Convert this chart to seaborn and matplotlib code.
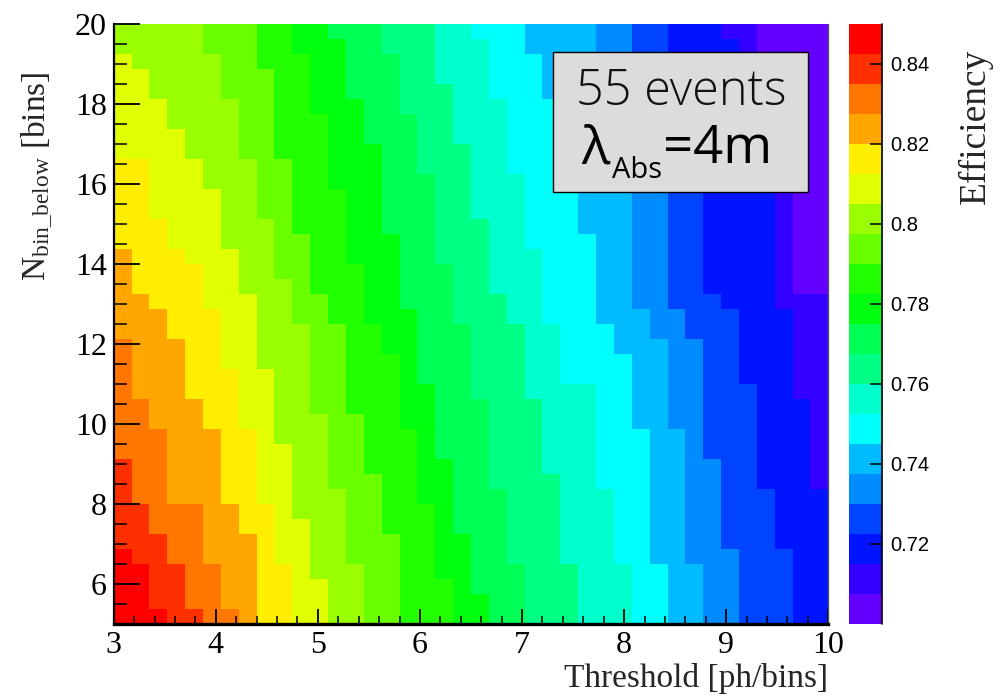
import colorsys
import numpy as np
import pandas as pd
import matplotlib
matplotlib.use("Agg")
import matplotlib.pyplot as plt
import seaborn as sns
from matplotlib.colors import ListedColormap
from matplotlib.patches import Rectangle

# ---------------- data ----------------
threshold_range = (3.0, 10.0)      # x axis: Threshold [ph/bins]
n_threshold_bins = 40
nbin_range = (5.0, 20.0)           # y axis: N_bin_below [bins]
n_nbin_bins = 40
eff_min, eff_max, n_levels = 0.70, 0.85, 20   # colour (contour) levels of the z axis
cbar_ticks = [0.72, 0.74, 0.76, 0.78, 0.80, 0.82, 0.84]
cbar_ticklabels = ["0.72", "0.74", "0.76", "0.78", "0.8", "0.82", "0.84"]
x_ticks = [3, 4, 5, 6, 7, 8, 9, 10]
y_ticks = [6, 8, 10, 12, 14, 16, 18, 20]

# For each efficiency level L (0 = lowest band ... 19 = highest band) the column
# (threshold bin) where the band of level >= L ends, listed as (first row, column)
# steps going up the N_bin_below rows (row 0 = bottom).
band_steps = {
    19: [(0, 3), (1, 2), (4, 1), (5, 0)],
    18: [(0, 5), (1, 4), (4, 3), (6, 2), (8, 1), (11, 0)],
    17: [(0, 7), (1, 6), (4, 5), (8, 3), (13, 2), (15, 1), (19, 0)],
    16: [(0, 8), (6, 7), (8, 6), (13, 5), (15, 4), (19, 3), (21, 2), (22, 1), (25, 0)],
    15: [(0, 10), (4, 9), (8, 8), (13, 7), (17, 6), (21, 5), (24, 4), (25, 3), (27, 2), (31, 0)],
    14: [(0, 12), (3, 11), (7, 10), (12, 9), (17, 8), (22, 7), (25, 6), (29, 5), (31, 4),
         (33, 3), (35, 2), (37, 1), (38, 0)],
    13: [(0, 14), (4, 13), (9, 12), (14, 11), (20, 10), (23, 9), (27, 8), (31, 7), (35, 6), (38, 5)],
    12: [(0, 16), (6, 15), (10, 14), (14, 13), (20, 12), (22, 11), (26, 10), (31, 9), (37, 8)],
    11: [(0, 19), (3, 18), (8, 17), (13, 16), (18, 15), (20, 14), (24, 13), (29, 12), (34, 11), (38, 10)],
    10: [(0, 21), (2, 20), (6, 19), (11, 18), (16, 17), (21, 16), (26, 15), (32, 14), (35, 13), (39, 12)],
    9: [(0, 23), (4, 22), (9, 21), (15, 20), (20, 19), (24, 18), (30, 17), (34, 16), (38, 15)],
    8: [(0, 26), (4, 25), (10, 24), (15, 23), (20, 22), (22, 21), (27, 20), (32, 19), (36, 18)],
    7: [(0, 29), (4, 28), (9, 27), (16, 25), (20, 24), (25, 23), (30, 22), (35, 21), (39, 20)],
    6: [(0, 31), (4, 30), (13, 29), (18, 28), (20, 27), (26, 26), (29, 25), (35, 24), (38, 23)],
    5: [(0, 33), (4, 32), (13, 31), (19, 30), (21, 29), (29, 28), (37, 27)],
    4: [(0, 35), (5, 34), (11, 33), (19, 32), (21, 31), (29, 30), (36, 29)],
    3: [(0, 38), (5, 37), (9, 36), (16, 35), (21, 34), (22, 33), (29, 32), (36, 31)],
    2: [(0, 40), (9, 39), (15, 38), (21, 37), (29, 36), (36, 35), (39, 34)],
    1: [(0, 40), (22, 38), (30, 37), (36, 36)],
}

# ---------------- build the histogram table ----------------
level = np.zeros((n_nbin_bins, n_threshold_bins), dtype=int)
for L, steps in band_steps.items():
    edge = np.zeros(n_nbin_bins, dtype=int)
    for r0, c in steps:
        edge[r0:] = c
    for r in range(n_nbin_bins):
        level[r, :edge[r]] += 1
dz = (eff_max - eff_min) / n_levels
eff = eff_min + (level + 0.5) * dz

xw = (threshold_range[1] - threshold_range[0]) / n_threshold_bins
yw = (nbin_range[1] - nbin_range[0]) / n_nbin_bins
x_centers = threshold_range[0] + xw * (np.arange(n_threshold_bins) + 0.5)
y_centers = nbin_range[0] + yw * (np.arange(n_nbin_bins) + 0.5)
df = pd.DataFrame(eff[::-1], index=np.round(y_centers[::-1], 4), columns=np.round(x_centers, 4))

# ROOT "pretty palette" (HLS hue scan violet -> red), 20 contour colours
pal = []
for k in range(n_levels):
    i = int((k + 0.99) * 50 / n_levels)
    if i >= 49:
        pal.append((1.0, 0.0, 0.0))
    else:
        hue = 280 - (i + 1) * 5.6
        pal.append(colorsys.hls_to_rgb(hue / 360.0, 0.5, 1.0))
cmap = ListedColormap(pal)

# ---------------- figure ----------------
sns.set_theme(style="white")
plt.rcParams["font.family"] = ["Liberation Serif", "DejaVu Serif"]
plt.rcParams["mathtext.fontset"] = "custom"
plt.rcParams["mathtext.rm"] = "Liberation Serif"
plt.rcParams["mathtext.it"] = "Liberation Serif:italic"
plt.rcParams["axes.axisbelow"] = False

W, H = 1001, 696
fig = plt.figure(figsize=(W / 100, H / 100), dpi=100)
fig.patch.set_facecolor("white")

def fx(px):
    return px / W

def fy(py):
    return 1 - py / H

L_, R_, T_, B_ = 113.7, 828.3, 23.7, 623.7
ax = fig.add_axes([fx(L_), fy(B_), (R_ - L_) / W, (B_ - T_) / H])
cax = fig.add_axes([fx(849), fy(B_), 33 / W, (B_ - T_) / H])

sns.heatmap(df, ax=ax, cbar_ax=cax, cmap=cmap, vmin=eff_min, vmax=eff_max,
            xticklabels=False, yticklabels=False, cbar_kws={"ticks": cbar_ticks})
ax.set_axisbelow(False)
cax.set_axisbelow(False)

# axis ticks (ROOT style, inside)
def xpos(v):
    return (v - threshold_range[0]) / xw

def ypos(v):
    return (nbin_range[1] - v) / yw

ax.set_xticks([xpos(v) for v in x_ticks])
ax.set_xticklabels([str(v) for v in x_ticks])
ax.set_xticks([xpos(v) for v in np.arange(3.0, 10.01, 0.2)], minor=True)
ax.set_yticks([ypos(v) for v in y_ticks])
ax.set_yticklabels([str(v) for v in y_ticks])
ax.set_yticks([ypos(v) for v in np.arange(5.0, 20.01, 0.5)], minor=True)

ax.tick_params(axis="x", which="major", direction="in", length=11, width=1.3,
               colors="black", labelsize=23, pad=5, bottom=True, top=False)
ax.tick_params(axis="x", which="minor", direction="in", length=5.5, width=1.1,
               bottom=True, top=False, color="black")
ax.tick_params(axis="y", which="major", direction="in", length=19, width=1.3,
               colors="black", labelsize=23, pad=5, left=True, right=False)
ax.tick_params(axis="y", which="minor", direction="in", length=9.5, width=1.1,
               left=True, right=False, color="black")
for lab in ax.get_xticklabels() + ax.get_yticklabels():
    lab.set_fontfamily("Liberation Serif")

for side, sp in ax.spines.items():
    sp.set_visible(True)
    sp.set_color("black")
    sp.set_zorder(3)
ax.spines["top"].set_visible(False)
ax.spines["left"].set_linewidth(1.6)
ax.spines["bottom"].set_linewidth(2.4)
ax.spines["right"].set_linewidth(1.0)
ax.spines["right"].set_color("#555555")

ax.set_xlabel("")
ax.set_ylabel("")
fig.text(fx(828), fy(687), "Threshold [ph/bins]", ha="right", va="baseline",
         fontsize=24, family="Liberation Serif")
fig.text(fx(37), fy(176), r"N$_{\rm bin\_below}$ [bins]", rotation=90,
         ha="center", va="center", fontsize=24, family="Liberation Serif")

# colour bar styling
cbar = ax.collections[0].colorbar
cbar.outline.set_visible(False)
cax.plot([1, 1], [0, 1], transform=cax.transAxes, color="black", lw=1.2, clip_on=False)
cax.yaxis.set_ticks_position("right")
cax.set_yticks(cbar_ticks)
cax.set_yticklabels(cbar_ticklabels)
cax.tick_params(axis="y", direction="in", length=9, width=1.1, colors="black",
                labelsize=14.5, pad=6, right=True, left=False)
for lab in cax.get_yticklabels():
    lab.set_fontfamily("Liberation Sans")
fig.text(fx(975), fy(126), "Efficiency", rotation=90, ha="center", va="center",
         fontsize=27, family="Liberation Serif")

# legend-like text box
box = Rectangle((fx(553), fy(192)), (808 - 553) / W, (192 - 52) / H,
                transform=fig.transFigure, facecolor="#dcdcdc", edgecolor="black",
                lw=1.0, zorder=5)
fig.patches.append(box)
fig.text(fx(681), fy(105), "55 events", ha="center", va="baseline", fontsize=35,
         family="Open Sans", fontweight="light", color="#111111", zorder=6)
fig.text(fx(581), fy(163), "λ", ha="left", va="baseline", fontsize=38,
         family="Open Sans", color="black", zorder=6)
fig.text(fx(612), fy(178), "Abs", ha="left", va="baseline", fontsize=21,
         family="Open Sans", color="black", zorder=6)
fig.text(fx(663), fy(163), "=4m", ha="left", va="baseline", fontsize=38,
         family="Open Sans", color="black", zorder=6)

fig.savefig("out.png", dpi=100, facecolor="white")
